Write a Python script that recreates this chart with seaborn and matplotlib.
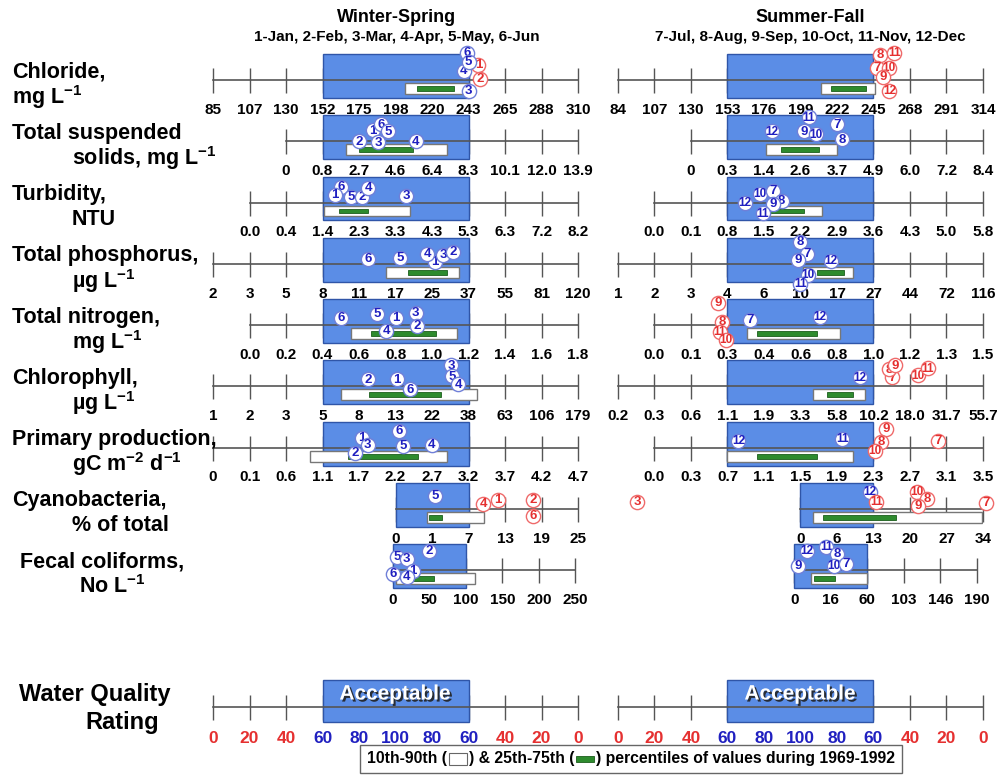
import numpy as np
import matplotlib
matplotlib.use("Agg")
import matplotlib.pyplot as plt
import matplotlib.patheffects as pe
from matplotlib.patches import Rectangle
from matplotlib.offsetbox import TextArea, DrawingArea, HPacker, AnchoredOffsetbox
from matplotlib.ticker import NullLocator
import seaborn as sns

# ---------------- DATA ----------------
row_labels = [
    ("Chloride,", "mg L$^{-1}$"),
    ("Total suspended", "solids, mg L$^{-1}$"),
    ("Turbidity,", "NTU"),
    ("Total phosphorus,", "µg L$^{-1}$"),
    ("Total nitrogen,", "mg L$^{-1}$"),
    ("Chlorophyll,", "µg L$^{-1}$"),
    ("Primary production,", "gC m$^{-2}$ d$^{-1}$"),
    ("Cyanobacteria,", "% of total"),
    ("Fecal coliforms,", "No L$^{-1}$"),
]

panel_titles = ["Winter-Spring", "Summer-Fall"]
panel_subtitles = ["1-Jan, 2-Feb, 3-Mar, 4-Apr, 5-May, 6-Jun",
                   "7-Jul, 8-Aug, 9-Sep, 10-Oct, 11-Nov, 12-Dec"]

# Winter-Spring
ws_tick_labels = [
    ['85', '107', '130', '152', '175', '198', '220', '243', '265', '288', '310'],
    ['0', '0.8', '2.7', '4.6', '6.4', '8.3', '10.1', '12.0', '13.9'],
    ['0.0', '0.4', '1.4', '2.3', '3.3', '4.3', '5.3', '6.3', '7.2', '8.2'],
    ['2', '3', '5', '8', '11', '17', '25', '37', '55', '81', '120'],
    ['0.0', '0.2', '0.4', '0.6', '0.8', '1.0', '1.2', '1.4', '1.6', '1.8'],
    ['1', '2', '3', '5', '8', '13', '22', '38', '63', '106', '179'],
    ['0', '0.1', '0.6', '1.1', '1.7', '2.2', '2.7', '3.2', '3.7', '4.2', '4.7'],
    ['0', '1', '7', '13', '19', '25'],
    ['0', '50', '100', '150', '200', '250'],
]
ws_p10 = [204, 2.0, 1.44, 15.4, 0.556, 6.5, 0.93, 0.86, 4]
ws_p25 = [211, 2.7, 1.8, 19.7, 0.666, 9.35, 1.52, 0.92, 23]
ws_p75 = [234, 5.46, 2.55, 29.9, 1.02, 26, 2.51, 2.6, 56]
ws_p90 = [243, 7.18, 3.7, 33.9, 1.136, 43.8, 2.9, 9.5, 112]
ws_months = [
    [1, 2, 6, 4, 5, 3],
    [1, 6, 5, 2, 3, 4],
    [6, 1, 5, 2, 4, 3],
    [6, 5, 1, 4, 3, 2],
    [6, 5, 1, 3, 2, 4],
    [2, 1, 6, 3, 5, 4],
    [6, 1, 3, 2, 5, 4],
    [5, 4, 1, 2, 6, 3],
    [2, 5, 3, 6, 1, 4],
]
ws_values = [
    [249, 250, 242, 240, 243, 243],
    [3.42, 3.84, 4.2, 2.7, 3.7, 5.6],
    [1.85, 1.71, 2.1, 2.38, 2.55, 3.59],
    [12.5, 18, 26, 24, 28.6, 32],
    [0.5, 0.70, 0.80, 0.91, 0.92, 0.75],
    [9.25, 13.4, 16.6, 30.3, 30.8, 33.4],
    [2.25, 1.74, 1.82, 1.63, 2.3, 2.7],
    [1.5, 9.4, 11.9, 17.6, 17.6, 34.7],
    [50, 5.5, 19, 0, 27, 19],
]

# Summer-Fall
sf_tick_labels = [
    ['84', '107', '130', '153', '176', '199', '222', '245', '268', '291', '314'],
    ['0', '0.3', '1.4', '2.6', '3.7', '4.9', '6.0', '7.2', '8.4'],
    ['0.0', '0.1', '0.8', '1.5', '2.2', '2.9', '3.6', '4.3', '5.0', '5.8'],
    ['1', '2', '3', '4', '6', '10', '17', '27', '44', '72', '116'],
    ['0.0', '0.1', '0.3', '0.4', '0.6', '0.8', '1.0', '1.2', '1.3', '1.5'],
    ['0.2', '0.3', '0.6', '1.1', '1.9', '3.3', '5.8', '10.2', '18.0', '31.7', '55.7'],
    ['0.0', '0.3', '0.7', '1.1', '1.5', '1.9', '2.3', '2.7', '3.1', '3.5'],
    ['0', '6', '13', '20', '27', '34'],
    ['0', '16', '60', '103', '146', '190'],
]
sf_p10 = [212, 1.46, 1.56, 10.5, 0.353, 4.15, 0.70, 2.0, 7.5]
sf_p25 = [218, 1.96, 1.61, 13.2, 0.381, 5.1, 1.02, 3.7, 8.5]
sf_p75 = [240, 3.15, 2.27, 18.9, 0.69, 7.7, 1.68, 17.3, 21]
sf_p90 = [246, 3.7, 2.61, 21.4, 0.816, 9.2, 2.08, 33.8, 60]
sf_months = [
    [8, 11, 7, 10, 9, 12],
    [11, 7, 12, 9, 10, 8],
    [12, 10, 7, 8, 9, 11],
    [8, 7, 9, 12, 10, 11],
    [9, 7, 12, 8, 11, 10],
    [12, 7, 8, 9, 10, 11],
    [9, 12, 11, 8, 10, 7],
    [12, 10, 8, 9, 11, 7],
    [12, 11, 8, 9, 10, 7],
]
sf_values = [
    [249, 258, 247, 255, 251, 255],
    [2.85, 3.7, 1.66, 2.71, 3.06, 3.86],
    [1.14, 1.42, 1.67, 1.84, 1.67, 1.48],
    [9.96, 11.3, 9.7, 15.9, 11.5, 9.96],
    [0.248, 0.362, 0.706, 0.27, 0.258, 0.29],
    [8.6, 14.2, 13.5, 14.8, 21, 24.7],
    [2.44, 0.82, 1.96, 2.38, 2.32, 3.01],
    [12.3, 21.3, 23.3, 21.5, 13.5, 34.6],
    [5.7, 14, 24, 1.8, 20, 34.5],
]

rating_labels = ['0', '20', '40', '60', '80', '100', '80', '60', '40', '20', '0']
legend_parts = ["10th-90th (", ") & 25th-75th (", ") percentiles of values during 1969-1992"]

# ---------------- LAYOUT (positions / styles) ----------------
ws_first_tick = [0, 2, 1, 0, 1, 0, 0, 5, 4.93]
sf_first_tick = [0, 2, 1, 0, 1, 0, 1, 5, 4.83]
ws_label_dy = [
    [15, 1, 27, 9, 18, -11],
    [11, 17, 10, 0, -1, 0],
    [16, 8, 6, 6, 15, 7],
    [5, 6, 2, 10, 9, 12],
    [7, 11, 7, 12, -1, -6],
    [7, 7, -3, 21, 10, 2],
    [17, 10, 3, -5, 2, 3],
    [13, 5, 9, 9, -7, 7],
    [19, 13, 11, -4, -1, -7],
]
sf_label_dy = [
    [25, 27, 12, 12, 3, -11],
    [24, 17, 10, 10, 7, 2],
    [0, 9, 12, 2, -1, -11],
    [22, 10, 4, 3, -11, -20],
    [22, 5, 8, 3, -7, -15],
    [9, 9, 17, 21, 11, 18],
    [19, 7, 9, 6, -3, 7],
    [17, 17, 10, 3, 7, 6],
    [19, 23, 16, 4, 4, 6],
]

W, H = 1003, 776
PANEL_X0 = [213, 618]
PANEL_W = 365
ROW_Y0, ROW_DY = 80, 61.25
BLUE = '#5B8DE6'
BLUE_EDGE = '#2F55A8'
GREEN = '#2E8B2E'
NUM_BLUE = '#2020C0'
NUM_RED = '#E53030'
AXIS_GRAY = '#555555'

sns.set_theme(style="white")
plt.rcParams['font.family'] = ['Liberation Sans', 'DejaVu Sans']
plt.rcParams['text.color'] = 'black'
plt.rcParams['xtick.labelcolor'] = 'black'
plt.rcParams['mathtext.fontset'] = 'custom'
plt.rcParams['mathtext.rm'] = 'Liberation Sans:bold'
plt.rcParams['mathtext.it'] = 'Liberation Sans:bold'
plt.rcParams['mathtext.bf'] = 'Liberation Sans:bold'
plt.rcParams['mathtext.default'] = 'rm'

fig = plt.figure(figsize=(W / 100, H / 100), dpi=100)
fig.patch.set_facecolor('white')


def px_axes(x0, ytop, w, h):
    return fig.add_axes([x0 / W, 1 - (ytop + h) / H, w / W, h / H])


def make_funcs(vals, idx):
    vals = np.asarray(vals, float)
    idx = np.asarray(idx, float)
    s_lo = (idx[1] - idx[0]) / (vals[1] - vals[0])
    s_hi = (idx[-1] - idx[-2]) / (vals[-1] - vals[-2])

    def fwd(v):
        v = np.asarray(v, float)
        out = np.interp(v, vals, idx)
        out = np.where(v < vals[0], idx[0] + (v - vals[0]) * s_lo, out)
        out = np.where(v > vals[-1], idx[-1] + (v - vals[-1]) * s_hi, out)
        return out

    def inv(p):
        p = np.asarray(p, float)
        out = np.interp(p, idx, vals)
        out = np.where(p < idx[0], vals[0] + (p - idx[0]) / s_lo, out)
        out = np.where(p > idx[-1], vals[-1] + (p - idx[-1]) / s_hi, out)
        return out
    return fwd, inv


def style_axis(ax, lo, hi):
    for s in ['top', 'left', 'right']:
        ax.spines[s].set_visible(False)
    sp = ax.spines['bottom']
    sp.set_position(('data', 0))
    sp.set_bounds(lo, hi)
    sp.set_color(AXIS_GRAY)
    sp.set_linewidth(1.2)
    ax.set_yticks([])
    ax.xaxis.set_minor_locator(NullLocator())
    ax.tick_params(axis='x', which='major', bottom=True, labelbottom=True,
                   direction='inout', length=18, width=1.0, color=AXIS_GRAY,
                   pad=7.5, labelsize=11, labelcolor='black')
    ax.patch.set_alpha(0)
    ax.grid(False)


panels = [
    (ws_tick_labels, ws_first_tick, ws_p10, ws_p25, ws_p75, ws_p90, ws_months, ws_values, ws_label_dy),
    (sf_tick_labels, sf_first_tick, sf_p10, sf_p25, sf_p75, sf_p90, sf_months, sf_values, sf_label_dy),
]

for p, (tlabs, first, p10, p25, p75, p90, months, values, dys) in enumerate(panels):
    for i in range(len(tlabs)):
        line_y = ROW_Y0 + ROW_DY * i
        ax = px_axes(PANEL_X0[p], line_y - 30, PANEL_W, 60)
        vals = [float(t) for t in tlabs[i]]
        idx = first[i] + np.arange(len(vals))
        fwd, inv = make_funcs(vals, idx)
        ax.set_xscale('function', functions=(fwd, inv))
        k0 = int(round(first[i]))
        acc_lo = vals[max(0, 3 - k0)]
        acc_hi = vals[7 - k0]
        # acceptable range (blue box)
        ax.barh(4, acc_hi - acc_lo, left=acc_lo, height=44, color=BLUE,
                edgecolor=BLUE_EDGE, linewidth=1.0, zorder=1)
        # 10th-90th and 25th-75th percentile bars
        ax.barh(-8.5, p90[i] - p10[i], left=p10[i], height=11, color='white',
                edgecolor='#777777', linewidth=1.0, zorder=1.2)
        ax.barh(-8.5, p75[i] - p25[i], left=p25[i], height=5, color=GREEN,
                edgecolor='#1c5e1c', linewidth=0.6, zorder=1.3)
        # monthly values
        for k, (m, v, dy) in enumerate(zip(months[i], values[i], dys[i])):
            inside = acc_lo - 1e-9 <= v <= acc_hi + 1e-9
            col = NUM_BLUE if inside else NUM_RED
            edge = '#6f7fd8' if inside else '#ef6a6a'
            sns.scatterplot(x=[v], y=[dy], ax=ax, s=105, color='white',
                            edgecolor=edge, linewidth=1.0, zorder=5 + 2 * k,
                            clip_on=False, legend=False)
            ax.text(v, dy - 0.3, str(m), ha='center', va='center', color=col,
                    fontsize=9.5 if m < 10 else 8.5, fontweight='bold',
                    zorder=6 + 2 * k, clip_on=False)
        style_axis(ax, vals[0], vals[-1])
        ax.set_xticks(vals)
        ax.set_xticklabels(tlabs[i], fontweight='bold')
        ax.set_xlim(float(inv(0)), float(inv(10)))
        ax.set_ylim(-30, 30)
        ax.set_xlabel('')
        ax.set_ylabel('')

# Row labels
for i, (l1, l2) in enumerate(row_labels):
    line_y = ROW_Y0 + ROW_DY * i
    x1 = 20 if i == 8 else 12
    x2 = 12 if i == 0 else (79 if i == 8 else 72)
    fig.text(x1 / W, 1 - (line_y - 8) / H, l1, fontsize=15.5, fontweight='bold',
             va='center', ha='left')
    fig.text(x2 / W, 1 - (line_y + 17) / H, l2, fontsize=15.5, fontweight='bold',
             va='center', ha='left')

# Panel titles
for p, cx in enumerate([397, 810]):
    fig.text(cx / W, 1 - 17 / H, panel_titles[p], fontsize=13, fontweight='bold',
             ha='center', va='center')
    fig.text(cx / W, 1 - 37 / H, panel_subtitles[p], fontsize=11, fontweight='bold',
             ha='center', va='center')

# Water quality rating rows
RATE_Y = 707
for p in range(2):
    ax = px_axes(PANEL_X0[p], RATE_Y - 30, PANEL_W, 60)
    pos = np.arange(len(rating_labels))
    ax.barh(6, 4, left=3, height=42, color=BLUE, edgecolor=BLUE_EDGE,
            linewidth=1.0, zorder=1)
    ax.text(5, 13, "Acceptable", ha='center', va='center', color='white',
            fontsize=15, fontweight='bold', zorder=6,
            path_effects=[pe.withSimplePatchShadow(offset=(1.5, -1.5),
                                                   shadow_rgbFace='#222222', alpha=0.9)])
    style_axis(ax, 0, 10)
    ax.set_xticks(pos)
    ax.set_xticklabels(rating_labels, fontweight='bold')
    ax.tick_params(axis='x', labelsize=12.5, pad=8)
    for j, t in enumerate(ax.get_xticklabels()):
        t.set_color(NUM_BLUE if 3 <= j <= 7 else NUM_RED)
    ax.set_xlim(0, 10)
    ax.set_ylim(-30, 30)

fig.text(95 / W, 1 - 695 / H, "Water Quality", fontsize=17, fontweight='bold',
         ha='center', va='center')
fig.text(122 / W, 1 - 723 / H, "Rating", fontsize=17, fontweight='bold',
         ha='center', va='center')

# Legend
tp = dict(fontsize=11.3, fontweight='bold', color='black')
da1 = DrawingArea(13, 9, 0, 0)
da1.add_artist(Rectangle((0, 0), 13, 9, fc='white', ec='#666666', lw=0.8))
da2 = DrawingArea(13, 9, 0, 0)
da2.add_artist(Rectangle((0, 2), 13, 5, fc=GREEN, ec='#1c5e1c', lw=0.6))
pack = HPacker(children=[TextArea(legend_parts[0], textprops=tp), da1,
                         TextArea(legend_parts[1], textprops=tp), da2,
                         TextArea(legend_parts[2], textprops=tp)],
               align='center', pad=0, sep=1.5)
leg_ax = px_axes(0, 0, W, H)
leg_ax.set_axis_off()
ab = AnchoredOffsetbox(loc='center', child=pack, pad=0.4, borderpad=0,
                       frameon=True, bbox_to_anchor=(631 / W, 1 - 759 / H),
                       bbox_transform=fig.transFigure)
ab.patch.set_edgecolor('#666666')
ab.patch.set_linewidth(1.0)
ab.patch.set_boxstyle('square,pad=0')
leg_ax.add_artist(ab)

fig.savefig("out.png", dpi=100, facecolor='white')
